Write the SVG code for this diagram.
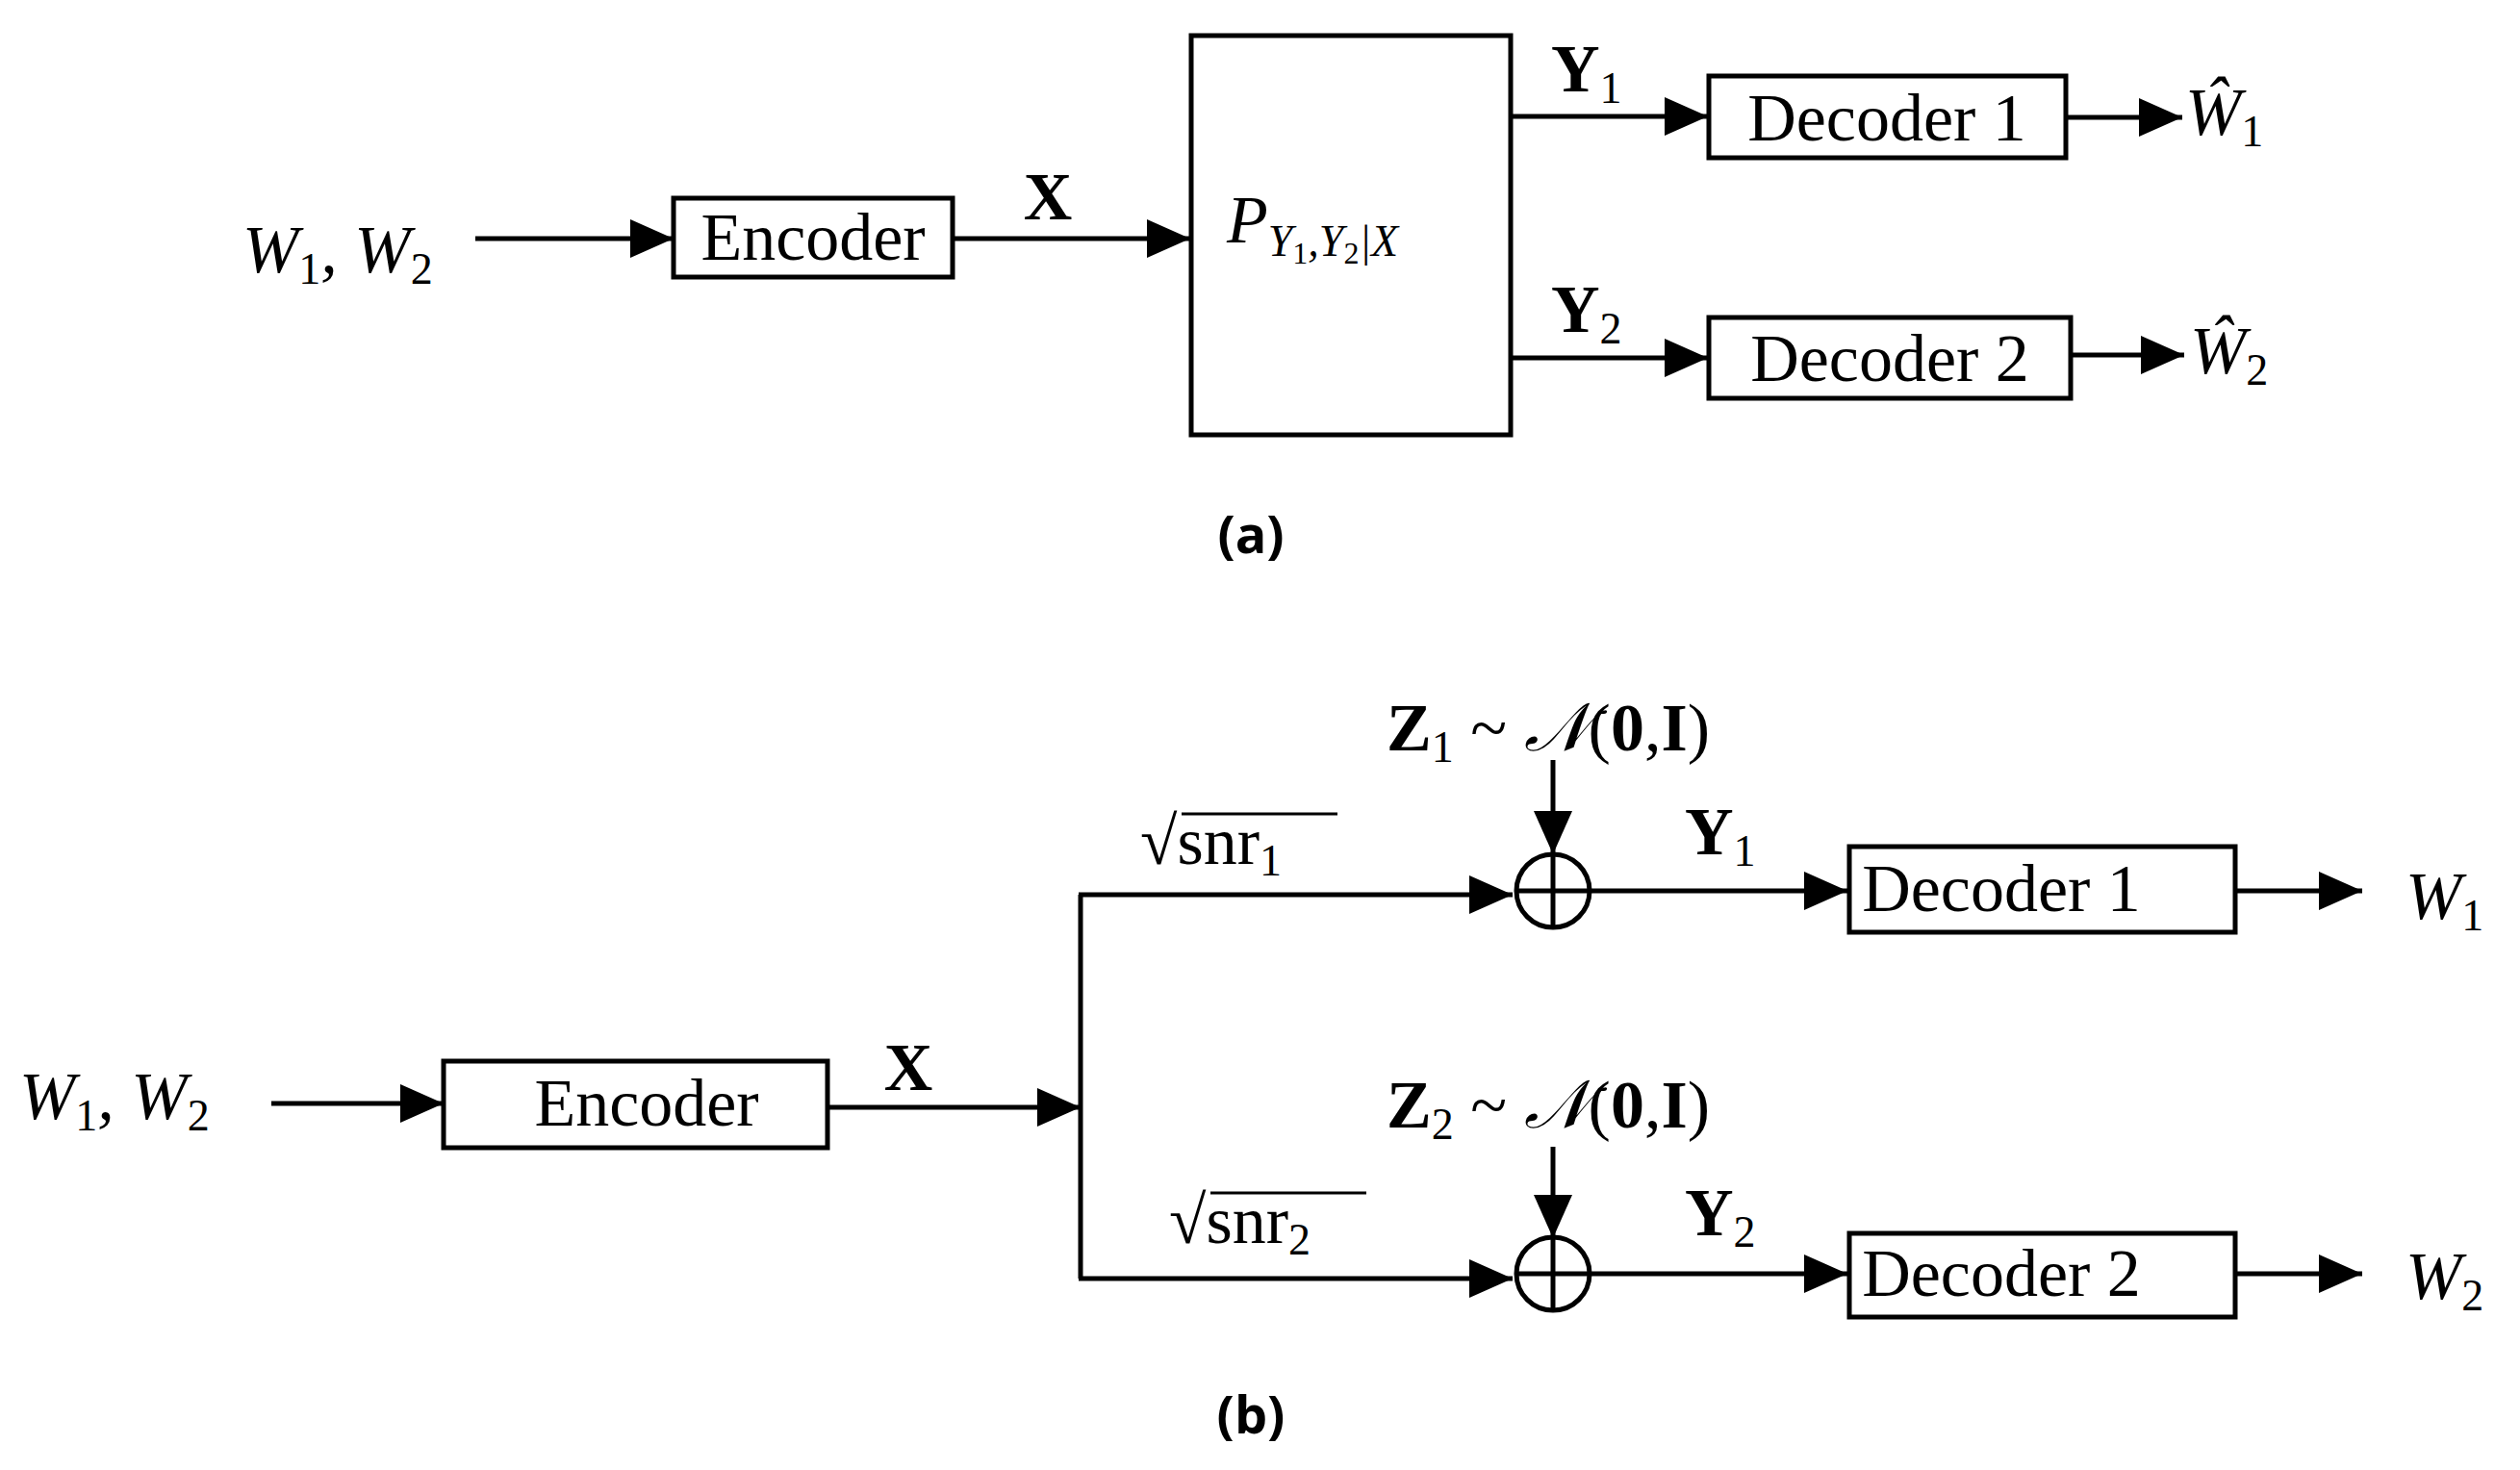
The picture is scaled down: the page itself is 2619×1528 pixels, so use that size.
<svg xmlns="http://www.w3.org/2000/svg" width="2619" height="1528" viewBox="0 0 2619 1528">
<style>
.b{fill:none;stroke:#000;stroke-width:5}
.l{stroke:#000;stroke-width:5;fill:none}
.t{font-family:"Liberation Serif",serif;font-size:70px;fill:#000}
.i{font-style:italic}
.bf{font-weight:bold}
.s{font-size:46px}
.cap{font-family:"Open Sans","Liberation Sans",sans-serif;font-weight:bold;font-size:54px}
</style>
<defs>
<marker id="a" markerWidth="9" markerHeight="8" refX="9" refY="4" orient="auto" markerUnits="strokeWidth"><path d="M0,0L9,4L0,8z"/></marker>
</defs>
<rect width="2619" height="1528" fill="#fff"/>
<g id="connectors">
<line class="l" x1="494" y1="248" x2="700" y2="248" marker-end="url(#a)"/>
<line class="l" x1="990" y1="248" x2="1237" y2="248" marker-end="url(#a)"/>
<line class="l" x1="1570" y1="121" x2="1775" y2="121" marker-end="url(#a)"/>
<line class="l" x1="1570" y1="372" x2="1775" y2="372" marker-end="url(#a)"/>
<line class="l" x1="2147" y1="122" x2="2268" y2="122" marker-end="url(#a)"/>
<line class="l" x1="2152" y1="369" x2="2270" y2="369" marker-end="url(#a)"/>
<line class="l" x1="282" y1="1147" x2="461" y2="1147" marker-end="url(#a)"/>
<line class="l" x1="860" y1="1151" x2="1123" y2="1151" marker-end="url(#a)"/>
<polyline class="l" points="1123,930 1123,1329"/>
<line class="l" x1="1121" y1="930" x2="1572" y2="930" marker-end="url(#a)"/>
<line class="l" x1="1121" y1="1329" x2="1572" y2="1329" marker-end="url(#a)"/>
<line class="l" x1="1614" y1="790" x2="1614" y2="888" marker-end="url(#a)"/>
<line class="l" x1="1614" y1="1192" x2="1614" y2="1287" marker-end="url(#a)"/>
<line class="l" x1="1654" y1="926" x2="1920" y2="926" marker-end="url(#a)"/>
<line class="l" x1="1654" y1="1324" x2="1920" y2="1324" marker-end="url(#a)"/>
<line class="l" x1="2323" y1="926" x2="2455" y2="926" marker-end="url(#a)"/>
<line class="l" x1="2323" y1="1324" x2="2455" y2="1324" marker-end="url(#a)"/>
</g>
<g id="in-a"><text class="t i" x="252" y="283">W<tspan class="s" font-style="normal" dy="12">1</tspan><tspan dy="-12">, W</tspan><tspan class="s" font-style="normal" dy="12">2</tspan></text></g>
<g id="enc-a"><rect class="b" x="700" y="206" width="290" height="82"/><text class="t" x="845" y="270" text-anchor="middle">Encoder</text></g>
<g id="xa"><text class="t bf" x="1089" y="228" text-anchor="middle">X</text></g>
<g id="chan"><rect class="b" x="1238" y="37" width="332" height="415"/><text class="t i" x="1275" y="252">P<tspan class="s" dy="14">Y</tspan><tspan font-style="normal" style="font-size:32px" dy="8">1</tspan><tspan class="s" dy="-8">,Y</tspan><tspan font-style="normal" style="font-size:32px" dy="8">2</tspan><tspan class="s" dy="-8">|X</tspan></text></g>
<g id="y1a"><text class="t bf" x="1612" y="95">Y<tspan class="s" font-weight="normal" dy="12">1</tspan></text></g>
<g id="y2a"><text class="t bf" x="1612" y="345">Y<tspan class="s" font-weight="normal" dy="12">2</tspan></text></g>
<g id="dec1-a"><rect class="b" x="1776" y="79" width="371" height="85"/><text class="t" x="1961" y="146" text-anchor="middle">Decoder 1</text></g>
<g id="dec2-a"><rect class="b" x="1776" y="330" width="376" height="84"/><text class="t" x="1964" y="396" text-anchor="middle">Decoder 2</text></g>
<g id="w1h"><text class="t i" x="2271" y="140">Ŵ<tspan class="s" font-style="normal" dy="12">1</tspan></text></g>
<g id="w2h"><text class="t i" x="2276" y="388">Ŵ<tspan class="s" font-style="normal" dy="12">2</tspan></text></g>
<g id="cap-a"><text class="cap" x="1300" y="575" text-anchor="middle">(a)</text></g>
<g id="in-b"><text class="t i" x="20" y="1163">W<tspan class="s" font-style="normal" dy="12">1</tspan><tspan dy="-12">, W</tspan><tspan class="s" font-style="normal" dy="12">2</tspan></text></g>
<g id="enc-b"><rect class="b" x="461" y="1103" width="399" height="90"/><text class="t" x="672" y="1170" text-anchor="middle">Encoder</text></g>
<g id="xb"><text class="t bf" x="944" y="1133" text-anchor="middle">X</text></g>
<g id="snr1"><text class="t" x="1185" y="898">√snr<tspan class="s" dy="12">1</tspan></text><line x1="1228" y1="846" x2="1390" y2="846" stroke="#000" stroke-width="3"/></g>
<g id="snr2"><text class="t" x="1215" y="1292">√snr<tspan class="s" dy="12">2</tspan></text><line x1="1258" y1="1240" x2="1420" y2="1240" stroke="#000" stroke-width="3"/></g>
<g id="z1"><text class="t" x="1441" y="780"><tspan class="bf">Z</tspan><tspan class="s" dy="12">1</tspan><tspan dy="-12"> ~ </tspan><tspan class="i">𝒩</tspan>(<tspan class="bf">0</tspan>,<tspan class="bf">I</tspan>)</text></g>
<g id="z2"><text class="t" x="1441" y="1172"><tspan class="bf">Z</tspan><tspan class="s" dy="12">2</tspan><tspan dy="-12"> ~ </tspan><tspan class="i">𝒩</tspan>(<tspan class="bf">0</tspan>,<tspan class="bf">I</tspan>)</text></g>
<g id="sum1"><circle class="b" cx="1614" cy="926" r="38"/><line class="b" x1="1576" y1="926" x2="1652" y2="926"/><line class="b" x1="1614" y1="888" x2="1614" y2="964"/></g>
<g id="sum2"><circle class="b" cx="1614" cy="1324" r="38"/><line class="b" x1="1576" y1="1324" x2="1652" y2="1324"/><line class="b" x1="1614" y1="1286" x2="1614" y2="1362"/></g>
<g id="y1b"><text class="t bf" x="1751" y="888">Y<tspan class="s" font-weight="normal" dy="12">1</tspan></text></g>
<g id="y2b"><text class="t bf" x="1751" y="1284">Y<tspan class="s" font-weight="normal" dy="12">2</tspan></text></g>
<g id="dec1-b"><rect class="b" x="1922" y="880" width="401" height="89"/><text class="t" x="2080" y="947" text-anchor="middle">Decoder 1</text></g>
<g id="dec2-b"><rect class="b" x="1922" y="1282" width="401" height="87"/><text class="t" x="2080" y="1347" text-anchor="middle">Decoder 2</text></g>
<g id="w1b"><text class="t i" x="2500" y="955">W<tspan class="s" font-style="normal" dy="12">1</tspan></text></g>
<g id="w2b"><text class="t i" x="2500" y="1350">W<tspan class="s" font-style="normal" dy="12">2</tspan></text></g>
<g id="cap-b"><text class="cap" x="1300" y="1490" text-anchor="middle">(b)</text></g>
</svg>
